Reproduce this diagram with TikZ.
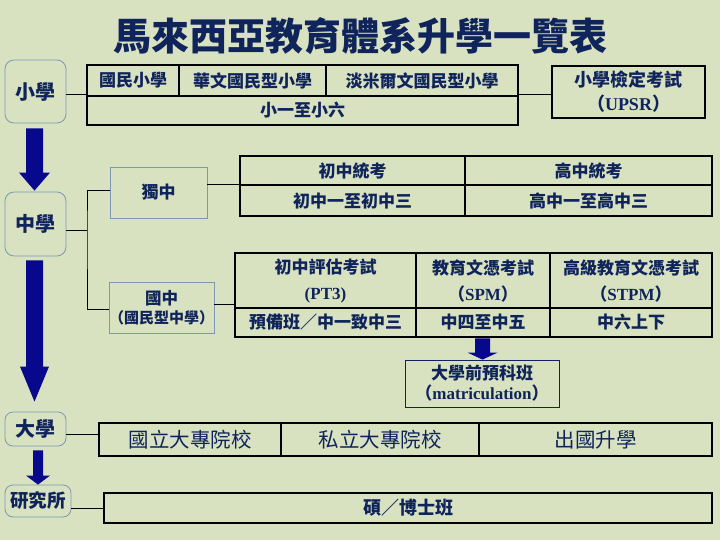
\documentclass[tikz,border=0pt]{standalone}
\usepackage{fontspec}
\setmainfont{Noto Sans CJK TC}
\newfontfamily\lat{Liberation Serif}
\usetikzlibrary{calc}
\definecolor{bg}{RGB}{217,226,192}
\definecolor{ink}{RGB}{16,36,92}
\definecolor{arrowblue}{RGB}{8,8,140}
\definecolor{softedge}{RGB}{125,150,180}
\newcommand\fsz[2]{\fontsize{#1}{#2}\selectfont}
\newcommand\mkbox[7][]{%
  \pgfmathsetmacro\mbcx{(#3+#5)/2}%
  \pgfmathsetmacro\mbcy{(#4+#6)/2}%
  \pgfmathsetmacro\mbw{#5-#3}%
  \pgfmathsetmacro\mbh{#6-#4}%
  \node[#1, minimum width=\mbw pt, minimum height=\mbh pt] (#2) at (\mbcx,\mbcy) {#7};%
}
% from, to, x centre, shaft half, head half, head length, top gap, tip gap
\newcommand\blockarrow[8]{%
  \fill[arrowblue] let \p1=(#1.south), \p2=(#2.north),
     \n1={\y1-#7pt}, \n2={\y2+#8pt}, \n3={\y2+#8pt+#6pt} in
     (#3pt-#4pt,\n1) -- (#3pt+#4pt,\n1) -- (#3pt+#4pt,\n3) -- (#3pt+#5pt,\n3)
     -- (#3pt,\n2) -- (#3pt-#5pt,\n3) -- (#3pt-#4pt,\n3) -- cycle;%
}
\tikzset{
  stage/.style={draw=softedge, line width=0.8pt, rounded corners=9pt, fill=bg, text=ink, inner sep=0pt, font=\fsz{20}{24}\bfseries},
  school/.style={draw=softedge, line width=0.8pt, text=ink, inner sep=0pt, align=center, font=\fsz{17}{19}\bfseries},
  tcell/.style={draw=black, line width=2.5pt, text=ink, inner sep=0pt, align=center, font=\fsz{17}{26}\bfseries},
  bigcell/.style={tcell, font=\fsz{20.5}{24}},
  matbox/.style={draw=ink, line width=0.8pt, text=ink, inner sep=0pt, align=center, font=\fsz{17}{20}\bfseries},
  conn/.style={draw=black, line width=0.9pt},
}
\begin{document}
\begin{tikzpicture}[x=1pt, y=-1pt]
\fill[bg] (0,0) rectangle (720,540);
\useasboundingbox (0,0) rectangle (720,540);

\node[text=ink, font=\fsz{38}{40}\bfseries, inner sep=0pt] (title) at (360,36) {馬來西亞教育體系升學一覽表};

% stages
\mkbox[stage]{xiao}{5}{60}{66}{123}{小學}
\mkbox[stage]{zhong}{5}{192}{66}{256}{中學}
\mkbox[stage, rounded corners=8pt]{da}{5}{412}{66}{446}{大學}
\mkbox[stage, rounded corners=8pt, font=\fsz{18.5}{22}\bfseries]{yan}{5}{485}{71}{517}{研究所}

% primary
\mkbox[tcell]{A1}{87}{65}{179}{96}{國民小學}
\mkbox[tcell]{A2}{179}{65}{326}{96}{華文國民型小學}
\mkbox[tcell]{A3}{326}{65}{518}{96}{淡米爾文國民型小學}
\mkbox[tcell]{A4}{87}{96}{518}{125}{小一至小六}
\mkbox[tcell, font=\fsz{18}{24}\bfseries]{upsr}{552}{66}{705}{118}{小學檢定考試\\（{\lat\bfseries UPSR}）}

% secondary
\mkbox[school]{du}{110}{167}{207}{218}{獨中}
\mkbox[school]{guo}{111}{282}{212}{333}{{\fsz{16.5}{19}國中}\\{\fsz{15}{19}（國民型中學）}}

\mkbox[tcell]{B1}{240}{156}{465}{185}{初中統考}
\mkbox[tcell]{B2}{465}{156}{712}{185}{高中統考}
\mkbox[tcell]{B3}{240}{185}{465}{216}{初中一至初中三}
\mkbox[tcell]{B4}{465}{185}{712}{216}{高中一至高中三}

\mkbox[tcell]{C1}{235}{253}{416}{308}{初中評估考試\\{\lat\bfseries (PT3)}}
\mkbox[tcell]{C2}{416}{253}{550}{308}{教育文憑考試\\（{\lat\bfseries SPM}）}
\mkbox[tcell]{C3}{550}{253}{712}{308}{高級教育文憑考試\\（{\lat\bfseries STPM}）}
\mkbox[tcell]{C4}{235}{308}{416}{337}{預備班／中一致中三}
\mkbox[tcell]{C5}{416}{308}{550}{337}{中四至中五}
\mkbox[tcell]{C6}{550}{308}{712}{337}{中六上下}

\mkbox[matbox]{mat}{405}{360}{559}{407}{大學前預科班\\（{\lat\bfseries matriculation}）}

% university
\mkbox[bigcell]{U1}{99}{423}{281}{456}{國立大專院校}
\mkbox[bigcell]{U2}{281}{423}{479}{456}{私立大專院校}
\mkbox[bigcell]{U3}{479}{423}{712}{456}{出國升學}
\mkbox[tcell]{G}{104}{493}{712}{523}{}
\node[text=ink, font=\fsz{18}{22}\bfseries, inner sep=0pt] (gtext) at (408,508) {碩／博士班};

% connectors
\draw[conn] (xiao.east |- 0,94) -- (A1.west |- 0,94);
\draw[conn] (A3.east |- 0,94) -- (upsr.west |- 0,94);
\coordinate (fork) at (87,230);
\draw[conn] (zhong.east |- fork) -- (fork);
\draw[conn] (du.west |- 0,190) -| (fork) |- (guo.west |- 0,309);
\draw[conn] (du.east |- 0,184) -- (B1.west |- 0,184);
\draw[conn] (guo.east |- 0,304) -- (C1.west |- 0,304);
\draw[conn] (da.east |- 0,434) -- (U1.west |- 0,434);
\draw[conn] (yan.east |- 0,508) -- (G.west |- 0,508);

% block arrows
\blockarrow{xiao}{zhong}{34.5}{8.5}{15.5}{18}{5}{1}
\blockarrow{zhong}{da}{34.5}{8.5}{14.5}{35}{4}{10}
\blockarrow{da}{yan}{38}{5}{12}{9}{4}{0}
\blockarrow{C5}{mat}{482.5}{7.5}{15}{7}{0}{0}
\end{tikzpicture}
\end{document}
